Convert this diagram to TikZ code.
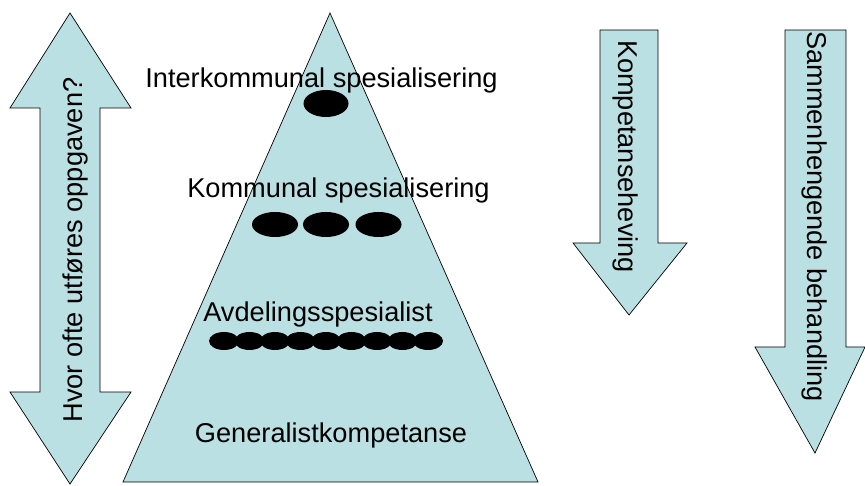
\documentclass[tikz,border=0pt]{standalone}
\usepackage{fontspec}
\setmainfont{Liberation Sans}
\definecolor{lightteal}{RGB}{187,224,227}
\begin{document}
\begin{tikzpicture}[x=1pt,y=-1pt,
  shapebox/.style={fill=lightteal,draw=black,line width=0.7pt,line join=miter},
  lbl/.style={inner sep=0pt,font=\fontsize{27.2}{32}\selectfont},
  blob/.style={fill=black}]
\useasboundingbox (0,0) rectangle (865,486);
% left double arrow
\draw[shapebox] (70,13) -- (131,108) -- (100,108) -- (100,392) -- (131,392)
  -- (70,484) -- (10,392) -- (40,392) -- (40,108) -- (10,108) -- cycle;
\node[lbl,rotate=90,anchor=base] (freq) at (82,250) {Hvor ofte utføres oppgaven?};
% pyramid
\draw[shapebox] (330,13) -- (538,482) -- (123,482) -- cycle;
\node[lbl,anchor=base] (inter) at (321.5,88) {Interkommunal spesialisering};
\node[lbl,anchor=base] (komm) at (338.5,198) {Kommunal spesialisering};
\node[lbl,anchor=base] (avd) at (318,322) {Avdelingsspesialist};
\node[lbl,anchor=base] (gen) at (331,442) {Generalistkompetanse};
\fill[blob] (326,103.5) ellipse [x radius=22.5pt, y radius=13.5pt];
\foreach \cx in {275,326,378.5}
  \fill[blob] (\cx,224.5) ellipse [x radius=23pt, y radius=12.5pt];
\foreach \i in {0,...,8}
  \fill[blob] ({224+25.5*\i},341) ellipse [x radius=15pt, y radius=9pt];
% right arrow 1
\draw[shapebox] (600,30) -- (658,30) -- (658,243) -- (687,243) -- (629,315)
  -- (573,243) -- (600,243) -- cycle;
\node[lbl,rotate=-90,anchor=base] (komp) at (618,156.5) {Kompetanseheving};
% right arrow 2
\draw[shapebox] (785,30) -- (846,30) -- (846,347) -- (865,347) -- (815,453)
  -- (755,347) -- (785,347) -- cycle;
\node[lbl,rotate=-90,anchor=base] (samm) at (807,216.5) {Sammenhengende behandling};
\end{tikzpicture}
\end{document}
